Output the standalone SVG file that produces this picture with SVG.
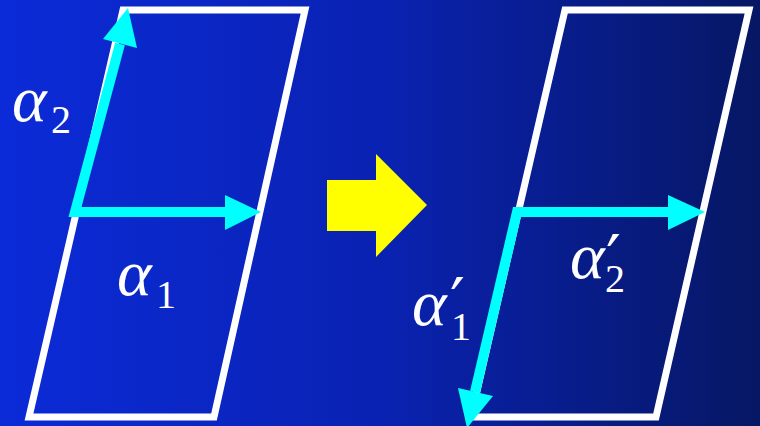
<svg xmlns="http://www.w3.org/2000/svg" width="760" height="426" viewBox="0 0 760 426">
<defs>
<linearGradient id="bg" x1="0" y1="0" x2="1" y2="0">
<stop offset="0" stop-color="#0b2bd8"/>
<stop offset="0.5" stop-color="#0a22b2"/>
<stop offset="1" stop-color="#061764"/>
</linearGradient>
<style>
.par{fill:none;stroke:#ffffff;stroke-width:7;stroke-linejoin:miter}
.shaft{fill:none;stroke:#00ffff;stroke-width:10;stroke-linejoin:miter}
.head{fill:#00ffff}
.lbl{fill:#ffffff}
.a{font-family:"Liberation Serif","DejaVu Serif",serif;font-style:italic;font-size:66px}
.s{font-family:"Liberation Serif","DejaVu Serif",serif;font-style:normal;font-size:40px}
.p{font-family:"DejaVu Sans","Liberation Sans",sans-serif;font-style:normal;font-size:66px}
</style>
</defs>
<rect x="0" y="0" width="760" height="426" fill="url(#bg)"/>
<g id="left-lattice">
<polygon class="par" points="123,10 305,10 214,417 29,417"/>
</g>
<g id="right-lattice">
<polygon class="par" points="565,10 749,10 656,417 471,417"/>
</g>
<g id="transform-arrow">
<polygon fill="#ffff00" points="327,180 376,180 376,154 427,205 376,257 376,231 327,231"/>
</g>
<g id="connectors">
<polyline class="shaft" points="120,44 75,212 228,212"/>
<polygon class="head" points="128,8 103,39 137,48"/>
<polygon class="head" points="261,212 225,195 225,230"/>
<polyline class="shaft" points="475,392 517,212 670,212"/>
<polygon class="head" points="467,428 458,388 493,396"/>
<polygon class="head" points="705,212 668,195 668,230"/>
</g>
<g id="labels" class="lbl">
<text><tspan class="a" x="12" y="121">α</tspan><tspan class="s" x="51" y="133">2</tspan></text>
<text><tspan class="a" x="117" y="295">α</tspan><tspan class="s" x="156" y="308">1</tspan></text>
<text><tspan class="a" x="570" y="278">α</tspan><tspan class="p" x="606" y="282">′</tspan><tspan class="s" x="605" y="292">2</tspan></text>
<text><tspan class="a" x="412" y="325">α</tspan><tspan class="p" x="450" y="325">′</tspan><tspan class="s" x="451" y="340">1</tspan></text>
</g>
</svg>
